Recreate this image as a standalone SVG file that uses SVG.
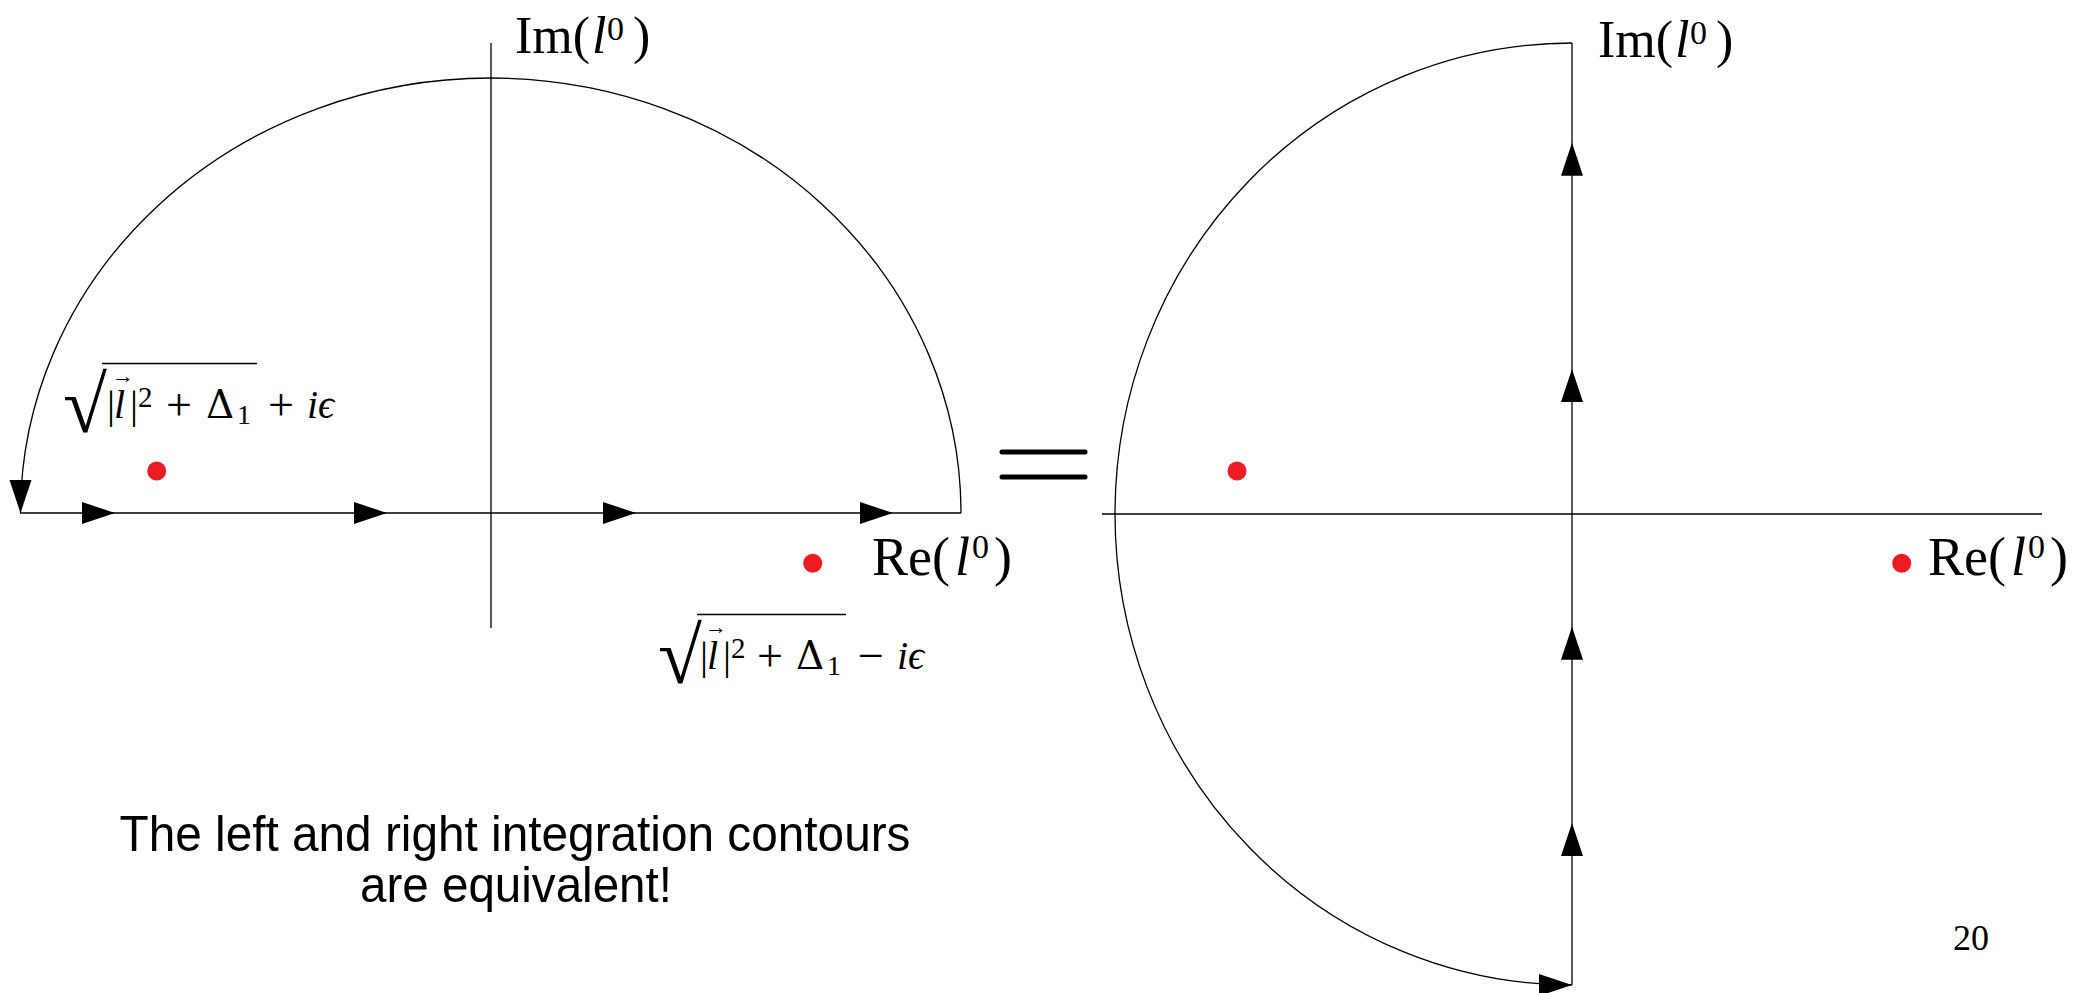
<svg xmlns="http://www.w3.org/2000/svg" width="2081" height="993" viewBox="0 0 2081 993">
<style>
.ln{fill:none;stroke:#000;stroke-width:1.3}
.ah{fill:#000}
.pole{fill:#ED1C24}
.m{font-family:"Liberation Serif","DejaVu Serif",serif;fill:#000}
.it{font-style:italic}
.dj{font-family:"DejaVu Serif","Liberation Serif",serif}
.op{font-size:46px}
.cap{font-family:"Liberation Sans",Arial,sans-serif;font-size:50px;fill:#000}
</style>
<defs>
<path id="ah" d="M0 0 L-33 -11 L-33 11 Z"/>
</defs>
<rect width="2081" height="993" fill="#fff"/>

<g id="connectors">
  <line class="ln" x1="491" y1="43" x2="491" y2="628"/>
  <line class="ln" x1="20" y1="513" x2="961" y2="513"/>
  <path class="ln" d="M961 513 A470.25 435 0 0 0 20.5 513"/>
  <use href="#ah" class="ah" transform="translate(115 513)"/>
  <use href="#ah" class="ah" transform="translate(387 513)"/>
  <use href="#ah" class="ah" transform="translate(636 513)"/>
  <use href="#ah" class="ah" transform="translate(893 513)"/>
  <use href="#ah" class="ah" transform="translate(20.5 513) rotate(90)"/>
  <line class="ln" x1="1572" y1="43" x2="1572" y2="985"/>
  <line class="ln" x1="1102" y1="514" x2="2042" y2="514"/>
  <path class="ln" d="M1572 43 A457 471 0 0 0 1572 985"/>
  <use href="#ah" class="ah" transform="translate(1572 142.7) rotate(-90)"/>
  <use href="#ah" class="ah" transform="translate(1572 369) rotate(-90)"/>
  <use href="#ah" class="ah" transform="translate(1572 626.7) rotate(-90)"/>
  <use href="#ah" class="ah" transform="translate(1572 823) rotate(-90)"/>
  <use href="#ah" class="ah" transform="translate(1572 985)"/>
</g>

<g id="poles">
  <circle class="pole" cx="156.7" cy="471" r="9.5"/>
  <circle class="pole" cx="812.7" cy="563.3" r="9.5"/>
  <circle class="pole" cx="1237" cy="471" r="9.5"/>
  <circle class="pole" cx="1901.7" cy="563.3" r="9.5"/>
</g>

<g id="equals">
  <line x1="1002" y1="452" x2="1085" y2="452" stroke="#000" stroke-width="5" stroke-linecap="round"/>
  <line x1="1002" y1="477" x2="1085" y2="477" stroke="#000" stroke-width="5" stroke-linecap="round"/>
</g>

<g id="label-im-left" class="m">
  <text x="515" y="53" font-size="52">Im(</text>
  <text x="592" y="53" font-size="52" class="it">l</text>
  <text x="607" y="40" font-size="34">0</text>
  <text x="633" y="53" font-size="52">)</text>
</g>
<g id="label-im-right" class="m" transform="translate(1083 4)">
  <text x="515" y="53" font-size="52">Im(</text>
  <text x="592" y="53" font-size="52" class="it">l</text>
  <text x="607" y="40" font-size="34">0</text>
  <text x="633" y="53" font-size="52">)</text>
</g>
<g id="label-re-left" class="m">
  <text x="872" y="575" font-size="54">Re(</text>
  <text x="955" y="575" font-size="54" class="it">l</text>
  <text x="972" y="558" font-size="34">0</text>
  <text x="994" y="575" font-size="54">)</text>
</g>
<g id="label-re-right" class="m" transform="translate(1056 0)">
  <text x="872" y="575" font-size="54">Re(</text>
  <text x="955" y="575" font-size="54" class="it">l</text>
  <text x="972" y="558" font-size="34">0</text>
  <text x="994" y="575" font-size="54">)</text>
</g>

<g id="label-pole-upper" transform="translate(102 363)">
  <text class="m" x="-39" y="69" font-size="80">√</text>
  <line x1="0" y1="0.5" x2="155" y2="0.5" stroke="#000" stroke-width="1.6"/>
  <g class="m" font-size="40">
    <text x="5" y="55">|</text>
    <text x="12" y="55" class="it">l</text>
    <text x="10" y="20" font-size="22">→</text>
    <text x="28" y="55">|</text>
    <text x="36" y="44" font-size="29">2</text>
    <text x="64" y="57" class="op">+</text>
    <text x="104" y="55" class="dj" font-size="39">Δ</text>
    <text x="135" y="61" font-size="28">1</text>
    <text x="166" y="57" class="op">+</text>
    <text x="205" y="55" class="it">i</text>
    <text x="216" y="55" class="it">ϵ</text>
  </g>
</g>
<g id="label-pole-lower" transform="translate(697 614)">
  <text class="m" x="-39" y="69" font-size="80">√</text>
  <line x1="0" y1="0.5" x2="149" y2="0.5" stroke="#000" stroke-width="1.6"/>
  <g class="m" font-size="40">
    <text x="3" y="55">|</text>
    <text x="10" y="55" class="it">l</text>
    <text x="8" y="20" font-size="22">→</text>
    <text x="26" y="55">|</text>
    <text x="34" y="44" font-size="29">2</text>
    <text x="60" y="57" class="op">+</text>
    <text x="99" y="55" class="dj" font-size="39">Δ</text>
    <text x="130" y="61" font-size="28">1</text>
    <text x="161" y="57" class="op">−</text>
    <text x="200" y="55" class="it">i</text>
    <text x="211" y="55" class="it">ϵ</text>
  </g>
</g>

<g id="caption">
  <text class="cap" x="515" y="851" text-anchor="middle" textLength="791" lengthAdjust="spacingAndGlyphs">The left and right integration contours</text>
  <text class="cap" x="516" y="902" text-anchor="middle" textLength="312" lengthAdjust="spacingAndGlyphs">are equivalent!</text>
</g>

<g id="page-number">
  <text class="m" x="1953" y="950" font-size="36">20</text>
</g>
</svg>
